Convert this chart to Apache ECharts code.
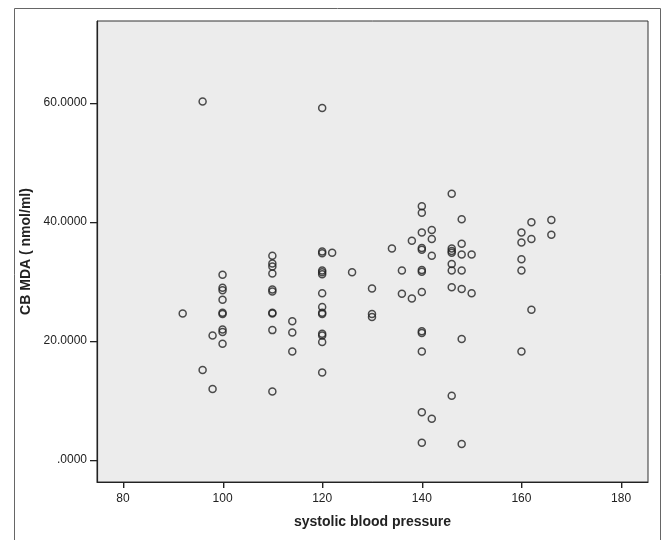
<!DOCTYPE html>
<html>
<head>
<meta charset="utf-8">
<script src="https://cdn.jsdelivr.net/npm/echarts@6/dist/echarts.min.js"></script>
<style>
  html, body { margin: 0; padding: 0; background: #fff; }
  #chart { width: 665px; height: 540px; }
</style>
</head>
<body>
<div id="chart"></div>
<script>
// systolic blood pressure (x) and CB MDA (y), one entry per subject
const sbp = [
  96, 92,
  100, 100, 100, 100, 100, 100, 100, 100, 100,
  98, 98, 96,
  110, 110, 110, 110, 110, 110, 110, 110, 110, 110,
  114, 114, 114,
  120, 120, 120, 120, 120, 120, 120, 120, 120, 120, 120, 120, 120, 120,
  122, 126, 130, 130, 130, 134, 136, 136, 138, 138,
  140, 140, 140, 140, 140, 140, 140, 140, 140, 140, 140, 140, 140,
  142, 142, 142, 142,
  146, 146, 146, 146, 146, 146, 146, 146,
  148, 148, 148, 148, 148, 148, 148,
  150, 150,
  160, 160, 160, 160, 160,
  162, 162, 162,
  166, 166
];
const mda = [
  60.2, 24.6,
  31.1, 28.9, 28.5, 26.9, 24.7, 24.5, 21.9, 21.5, 19.5,
  20.9, 11.9, 15.1,
  34.3, 33.0, 32.5, 31.3, 28.6, 28.3, 24.7, 24.6, 21.8, 11.5,
  23.3, 21.4, 18.2,
  59.1, 35.0, 34.7, 31.8, 31.5, 31.2, 28.0, 25.7, 24.7, 24.5, 21.2, 20.9, 19.8, 14.7,
  34.8, 31.5, 28.8, 24.5, 24.0, 35.5, 31.8, 27.9, 36.8, 27.1,
  42.6, 41.5, 38.2, 35.6, 35.3, 31.9, 31.6, 28.2, 21.6, 21.3, 18.2, 8.0, 2.9,
  38.6, 37.1, 34.3, 6.9,
  44.7, 35.5, 35.1, 34.8, 32.9, 31.8, 29.0, 10.8,
  40.4, 36.3, 34.5, 31.8, 28.7, 20.3, 2.7,
  34.5, 28.0,
  38.2, 36.5, 33.7, 31.8, 18.2,
  39.9, 37.1, 25.2,
  40.3, 37.8
];
const xTicks = [80, 100, 120, 140, 160, 180];
const yTicks = [0, 20, 40, 60];
const xMin = 74.8, xMax = 185.4;
const yMin = -3.7, yMax = 73.7;

const chart = echarts.init(document.getElementById('chart'));

const points = sbp.map((x, i) => [x, mda[i]]);

const font = 'Liberation Sans, Arial, sans-serif';
const gridBox = { left: 97, right: 17, top: 21, bottom: 58 };
const frame = {
  type: 'rect',
  shape: { x: 14.5, y: 8.5, width: 646, height: 540 },
  style: { fill: 'none', stroke: '#666', lineWidth: 1 },
  silent: true
};

const option = {
  backgroundColor: '#fff',
  animation: false,
  graphic: [frame],
  grid: Object.assign({
    show: true,
    backgroundColor: '#ececec',
    borderColor: '#333',
    borderWidth: 1
  }, gridBox),
  xAxis: {
    type: 'value',
    min: xMin,
    max: xMax,
    name: 'systolic blood pressure',
    nameLocation: 'middle',
    nameGap: 33,
    nameTextStyle: { fontFamily: font, fontSize: 14, fontWeight: 'bold', color: '#222' },
    axisLine: { show: true, onZero: false, lineStyle: { color: '#222', width: 1.2 } },
    axisTick: { show: false },
    axisLabel: { customValues: xTicks, margin: 11, fontFamily: font, fontSize: 12, color: '#222' },
    splitLine: { show: false }
  },
  yAxis: {
    type: 'value',
    min: yMin,
    max: yMax,
    name: 'CB MDA ( nmol/ml)',
    nameLocation: 'middle',
    nameGap: 52,
    nameRotate: 90,
    nameTextStyle: { fontFamily: font, fontSize: 14, fontWeight: 'bold', color: '#222' },
    axisLine: { show: true, onZero: false, lineStyle: { color: '#222', width: 1.2 } },
    axisTick: { show: false },
    axisLabel: {
      customValues: yTicks,
      margin: 10,
      fontFamily: font,
      fontSize: 12,
      color: '#222',
      formatter: v => (v === 0 ? '.0000' : v.toFixed(4))
    },
    splitLine: { show: false }
  },
  series: [
    {
      type: 'scatter',
      data: points,
      symbol: 'circle',
      symbolSize: 7,
      itemStyle: { color: 'rgba(0,0,0,0)', borderColor: '#222', borderWidth: 1.5 }
    }
  ]
};

chart.setOption(option);

// tick marks: positions from the axis scales, drawn as thin filled rects
const tickFill = { fill: '#222' };
const bottomY = 540 - gridBox.bottom;
const leftX = gridBox.left;
const ticks = [];
xTicks.forEach(v => {
  const px = chart.convertToPixel({ gridIndex: 0 }, [v, yMax]);
  const x = Math.round(px[0]);
  ticks.push({ type: 'rect', z: 100, silent: true, shape: { x: x, y: bottomY, width: 1.4, height: 6 }, style: tickFill });
});
yTicks.forEach(v => {
  const py = chart.convertToPixel({ gridIndex: 0 }, [xMax, v]);
  const y = Math.round(py[1]);
  ticks.push({ type: 'rect', z: 100, silent: true, shape: { x: leftX - 7, y: y, width: 7, height: 1.3 }, style: tickFill });
});
chart.setOption({ graphic: [frame].concat(ticks) }, { replaceMerge: ['graphic'] });
</script>
</body>
</html>
